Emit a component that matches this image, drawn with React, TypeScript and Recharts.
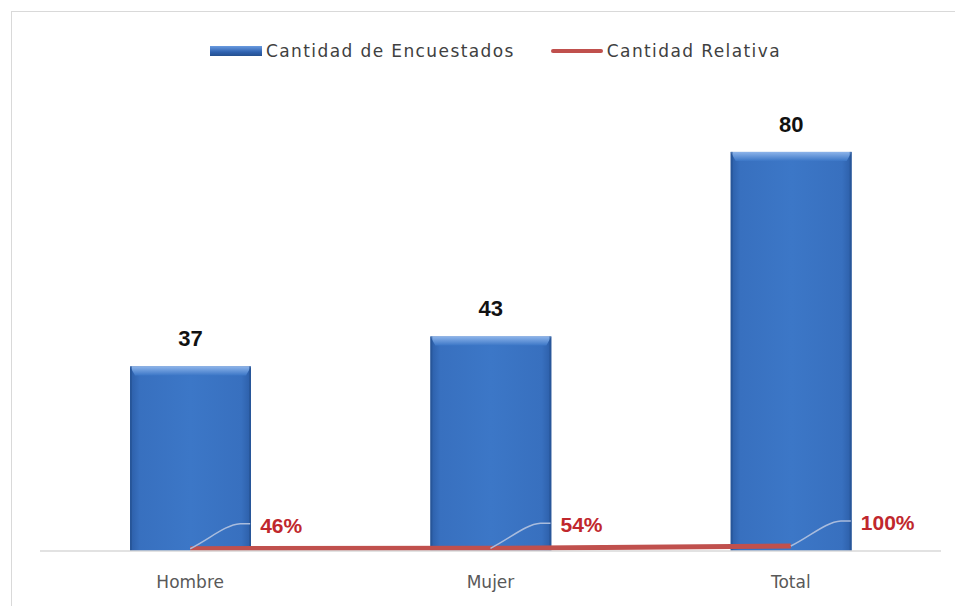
import { ComposedChart, Bar, Line, XAxis, YAxis, LabelList } from 'recharts'

const categories = ['Hombre', 'Mujer', 'Total']
const encuestados = [37, 43, 80]
const relativa = [0.46, 0.54, 1]
const relativaLabels = ['46%', '54%', '100%']

const data = categories.map((name, i) => ({
  name,
  encuestados: encuestados[i],
  relativa: relativa[i],
  label: relativaLabels[i],
}))

const BevelBar = (props: any) => {
  const { x, y, width, height } = props
  if (!height || height <= 0) return null
  const bevel = 9
  return (
    <g>
      <rect x={x} y={y} width={width} height={height} fill="url(#barBody)" />
      <path
        d={`M${x},${y} L${x + width},${y} L${x + width - 5},${y + bevel} L${x + 5},${y + bevel} Z`}
        fill="url(#barTop)"
      />
      <rect x={x} y={y} width={2} height={height} fill="#24508F" opacity={0.6} />
      <rect x={x + width - 2} y={y} width={2} height={height} fill="#24508F" opacity={0.6} />
    </g>
  )
}

const ValueLabel = (props: any) => {
  const { x, y, width, value } = props
  return (
    <text
      x={x + width / 2}
      y={y - 20}
      textAnchor="middle"
      fontFamily="Liberation Sans, Arial, sans-serif"
      fontWeight="bold"
      fontSize={22}
      fill="#111"
    >
      {value}
    </text>
  )
}

const PercentLabel = (props: any) => {
  const { x, y, value } = props
  return (
    <g>
      <path
        d={`M${x},${y} C${x + 20},${y - 10} ${x + 35},${y - 24} ${x + 50},${y - 25} L${x + 60},${y - 25}`}
        fill="none"
        stroke="#A9BCDD"
        strokeWidth={1.5}
      />
      <text
        x={x + 70}
        y={y - 16}
        fontFamily="Liberation Sans, Arial, sans-serif"
        fontWeight="bold"
        fontSize={21}
        fill="#C0272D"
      >
        {value}
      </text>
    </g>
  )
}

const LegendBox = () => (
  <div
    style={{
      position: 'absolute',
      left: 210,
      top: 41,
      display: 'flex',
      alignItems: 'center',
      fontFamily: 'DejaVu Sans, sans-serif',
      fontSize: 17,
      letterSpacing: 1.4,
      color: '#404040',
      whiteSpace: 'nowrap',
    }}
  >
    <span
      style={{
        display: 'inline-block',
        width: 52,
        height: 10,
        background: 'linear-gradient(#6A9BE0, #2F62B0 60%, #24508F)',
        marginRight: 4,
      }}
    />
    <span style={{ marginRight: 36 }}>Cantidad de Encuestados</span>
    <span
      style={{
        display: 'inline-block',
        width: 52,
        height: 4,
        borderRadius: 2,
        background: '#C0504D',
        marginRight: 4,
      }}
    />
    <span>Cantidad Relativa</span>
  </div>
)

export default function App() {
  return (
    <div style={{ position: 'fixed', left: 0, top: 0, width: 955, height: 606, background: '#fff' }}>
      <div
        style={{
          position: 'absolute',
          left: 11,
          top: 11,
          width: 944,
          height: 595,
          borderLeft: '1px solid #D9D9D9',
          borderTop: '1px solid #D9D9D9',
          boxSizing: 'border-box',
        }}
      />
      <LegendBox />
      <ComposedChart
        width={955}
        height={606}
        data={data}
        margin={{ top: 102, right: 14, bottom: 0, left: 40 }}
        style={{ position: 'absolute', left: 0, top: 0 }}
      >
        <defs>
          <linearGradient id="barBody" x1="0" y1="0" x2="1" y2="0">
            <stop offset="0%" stopColor="#2C5EA8" />
            <stop offset="8%" stopColor="#3870BF" />
            <stop offset="50%" stopColor="#3C77C7" />
            <stop offset="92%" stopColor="#3870BF" />
            <stop offset="100%" stopColor="#2C5EA8" />
          </linearGradient>
          <linearGradient id="barTop" x1="0" y1="0" x2="0" y2="1">
            <stop offset="0%" stopColor="#8DB4EA" />
            <stop offset="100%" stopColor="#3C77C7" />
          </linearGradient>
        </defs>
        <XAxis
          dataKey="name"
          height={55}
          axisLine={{ stroke: '#D9D9D9', strokeWidth: 1.5 }}
          tickLine={false}
          tick={{ fontSize: 17, fill: '#595959', fontFamily: 'DejaVu Sans, sans-serif', dy: 17 }}
        />
        <YAxis hide domain={[0, 90]} />
        <Bar dataKey="encuestados" barSize={121} shape={<BevelBar />} isAnimationActive={false}>
          <LabelList dataKey="encuestados" content={<ValueLabel />} />
        </Bar>
        <Line
          dataKey="relativa"
          stroke="#C0504D"
          strokeWidth={5}
          dot={false}
          activeDot={false}
          isAnimationActive={false}
        >
          <LabelList dataKey="label" content={<PercentLabel />} />
        </Line>
      </ComposedChart>
    </div>
  )
}
